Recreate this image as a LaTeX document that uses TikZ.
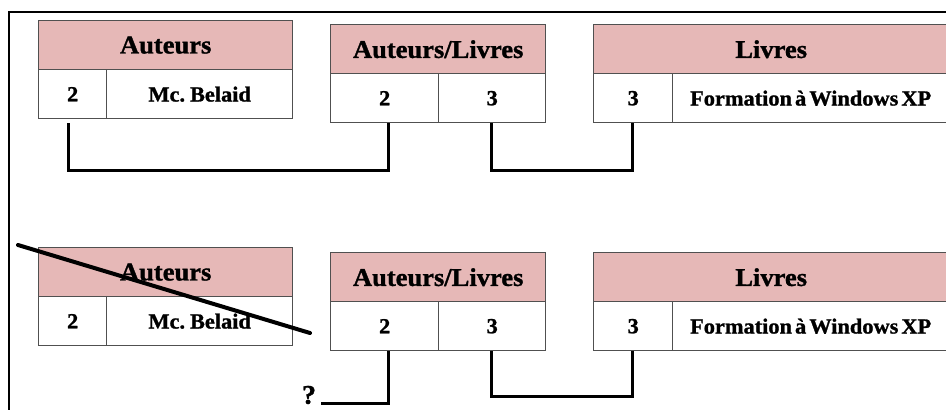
\documentclass[tikz,border=0pt]{standalone}
\usepackage{fontspec}
\setmainfont{Liberation Serif}[FakeStretch=1.04, FakeBold=1.2, WordSpace=0.55]
\usetikzlibrary{calc}
\definecolor{hdrpink}{HTML}{E6B8B7}
\definecolor{gridgray}{HTML}{505050}
\begin{document}
\begin{tikzpicture}[x=1pt,y=-1pt,
  cell/.style={draw=gridgray, line width=1.4pt, minimum height=49pt, inner sep=0pt, anchor=north west,
    font=\fontsize{21.5}{25}\selectfont\bfseries},
  hdr/.style={cell, fill=hdrpink, font=\fontsize{25.5}{30}\selectfont\bfseries},
  link/.style={draw=black, line width=3pt, line join=miter},
  frame/.style={draw=black, line width=2.5pt}]
\clip (0,0) rectangle (946,410);
\fill[white] (0,0) rectangle (946,410);
\draw[frame] (9,412) -- (9,12) -- (948,12);

% ---------- top row ----------
\node[hdr, minimum width=254pt] (tAh) at (38,20) {Auteurs};
\node[cell, minimum width=68pt] (tA1) at (38,69) {2};
\node[cell, minimum width=186pt] (tA2) at (106,69) {Mc. Belaid};

\node[hdr, minimum width=215pt] (tLh) at (330,24) {Auteurs/Livres};
\node[cell, minimum width=108pt] (tL1) at (330,73) {2};
\node[cell, minimum width=107pt] (tL2) at (438,73) {3};

\node[hdr, minimum width=355pt] (tVh) at (593,24) {Livres};
\node[cell, minimum width=79pt] (tV1) at (593,73) {3};
\node[cell, minimum width=276pt] (tV2) at (672,73) {Formation à Windows XP};

\draw[link] ([xshift=-4pt,yshift=-4pt]tA1.south) -- ++(0,47) -| ([xshift=4pt]tL1.south);
\draw[link] ([xshift=-1pt]tL2.south) -- ++(0,47) -| ([xshift=-0.5pt]tV1.south);

% ---------- bottom row ----------
\node[hdr, minimum width=254pt] (bAh) at (38,247) {Auteurs};
\node[cell, minimum width=68pt] (bA1) at (38,296) {2};
\node[cell, minimum width=186pt] (bA2) at (106,296) {Mc. Belaid};

\node[hdr, minimum width=215pt] (bLh) at (330,252) {Auteurs/Livres};
\node[cell, minimum width=108pt] (bL1) at (330,301) {2};
\node[cell, minimum width=107pt] (bL2) at (438,301) {3};

\node[hdr, minimum width=355pt] (bVh) at (593,252) {Livres};
\node[cell, minimum width=79pt] (bV1) at (593,301) {3};
\node[cell, minimum width=276pt] (bV2) at (672,301) {Formation à Windows XP};

\coordinate (cross1) at (18,245);
\coordinate (cross2) at (310,333);
\draw[black, line width=4pt, line cap=round] (cross1) -- (cross2);

\node[font=\fontsize{27}{30}\selectfont\bfseries, inner sep=0pt] (q) at (309,395) {?};
\draw[link] ([xshift=4pt]bL1.south) |- ([xshift=5pt,yshift=-8pt]q.east);
\draw[link] ([xshift=-1pt]bL2.south) -- ++(0,45) -| ([xshift=-0.5pt]bV1.south);
\end{tikzpicture}
\end{document}
